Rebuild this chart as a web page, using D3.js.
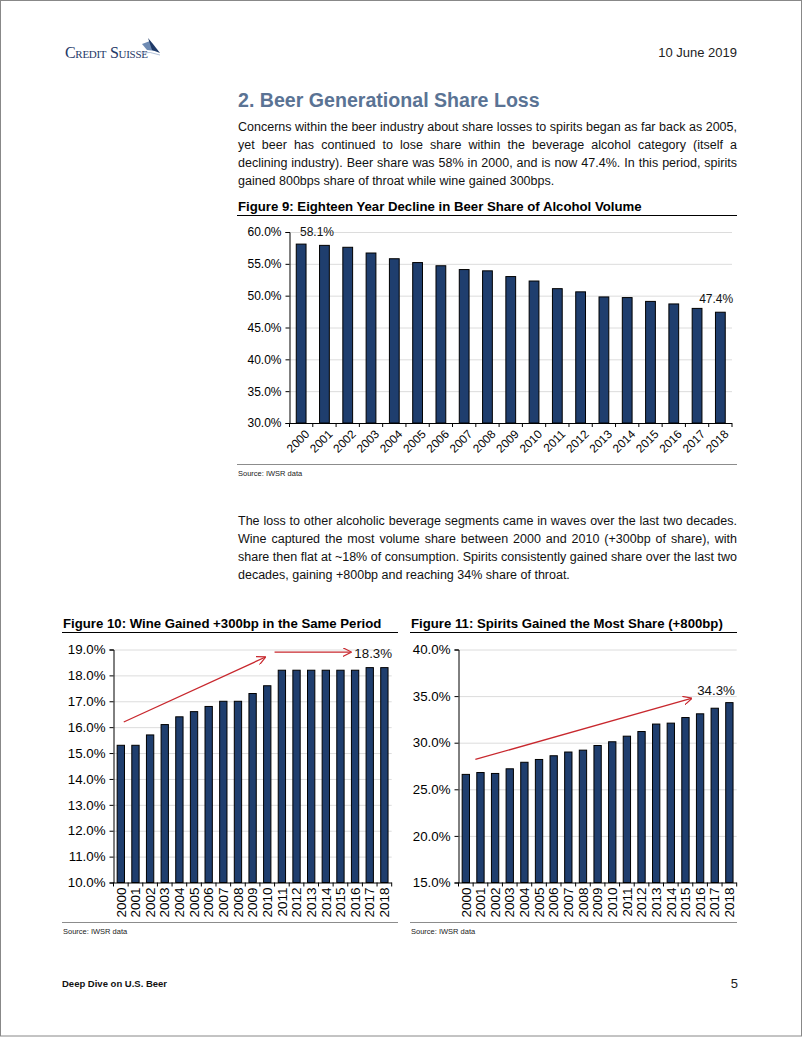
<!DOCTYPE html>
<html>
<head>
<meta charset="utf-8">
<script src="https://cdn.jsdelivr.net/npm/d3@7"></script>
<style>
  body { margin: 0; background: #fff; }
  #page { position: relative; width: 802px; height: 1037px; overflow: hidden; font-family: Arial, "Liberation Sans", sans-serif; }
  #page svg { position: absolute; left: 0; top: 0; }
  .para { position: absolute; left: 238px; width: 499px; font-size: 12.5px; line-height: 18px; text-align: justify; color: #111; }
</style>
</head>
<body>
<div id="page">
  <svg id="chart" width="802" height="1037"></svg>
  <div class="para" style="top:118px">Concerns within the beer industry about share losses to spirits began as far back as 2005, yet beer has continued to lose share within the beverage alcohol category (itself a declining industry). Beer share was 58% in 2000, and is now 47.4%. In this period, spirits gained 800bps share of throat while wine gained 300bps.</div>
  <div class="para" style="top:512px">The loss to other alcoholic beverage segments came in waves over the last two decades. Wine captured the most volume share between 2000 and 2010 (+300bp of share), with share then flat at ~18% of consumption. Spirits consistently gained share over the last two decades, gaining +800bp and reaching 34% share of throat.</div>
</div>
<script>
// years shared by all three figures
var years = ["2000","2001","2002","2003","2004","2005","2006","2007","2008","2009",
             "2010","2011","2012","2013","2014","2015","2016","2017","2018"];

// share of alcohol volume, %
var beerShare = [58.1, 57.9, 57.6, 56.7, 55.8, 55.2, 54.7, 54.1, 53.9, 53.0,
                 52.3, 51.1, 50.6, 49.8, 49.7, 49.1, 48.7, 48.0, 47.4];
var wineShare = [15.3, 15.3, 15.7, 16.1, 16.4, 16.6, 16.8, 17.0, 17.0, 17.3,
                 17.6, 18.2, 18.2, 18.2, 18.2, 18.2, 18.2, 18.3, 18.3];
var spiritsShare = [26.6, 26.8, 26.7, 27.2, 27.9, 28.2, 28.6, 29.0, 29.2, 29.7,
                    30.1, 30.7, 31.2, 32.0, 32.1, 32.7, 33.1, 33.7, 34.3];

var beerTicks = [30, 35, 40, 45, 50, 55, 60];
var wineTicks = [10, 11, 12, 13, 14, 15, 16, 17, 18, 19];
var spiritsTicks = [15, 20, 25, 30, 35, 40];

// annotation arrows, [year index, value] pairs
var wineArrows = [[[0.2, 16.2], [9.85, 18.7]], [[10.5, 18.9], [15.7, 18.9]]];
var spiritsArrows = [[[0.65, 28.2], [15.4, 34.75]]];

var svg = d3.select("#chart");
var barFill = "#1f3e6e";
var fmt = function(d){ return d3.format(".1f")(d) + "%"; };

// arrow head marker
svg.append("defs").append("marker")
  .attr("id", "head")
  .attr("viewBox", "0 0 10 10")
  .attr("refX", 9).attr("refY", 5)
  .attr("markerWidth", 9).attr("markerHeight", 9)
  .attr("markerUnits", "userSpaceOnUse")
  .attr("orient", "auto")
  .append("path")
  .attr("d", "M0,0 L10,5 L0,10")
  .attr("fill", "none")
  .attr("stroke", "#c8282e")
  .attr("stroke-width", 1.3);

// page frame
svg.append("rect").attr("x", 0.5).attr("y", 0.5).attr("width", 801).attr("height", 1035.5)
  .attr("fill", "none").attr("stroke", "#888").attr("stroke-width", 1);

// header
var logo = svg.append("g");
logo.append("text").attr("x", 65).attr("y", 58)
  .style("font-family", "'Liberation Serif', serif").style("font-size", "16px")
  .style("font-variant", "small-caps").style("letter-spacing", "-0.3px")
  .attr("fill", "#1f3a68").text("Credit Suisse");
logo.append("path").attr("d", "M142,44 L150,41 L156,51 L147,50 Z").attr("fill", "#6f8bb3");
logo.append("path").attr("d", "M148,38 L153,44 L160,53 L152,50 Z").attr("fill", "#1f3a68");
logo.append("path").attr("d", "M141,53 Q150,51 160,55").attr("fill", "none").attr("stroke", "#9fb3cf").attr("stroke-width", 0.8);

svg.append("text").attr("x", 737).attr("y", 57).attr("text-anchor", "end")
  .style("font-size", "13px").attr("fill", "#222").text("10 June 2019");

svg.append("text").attr("x", 238).attr("y", 107)
  .style("font-size", "19.6px").style("font-weight", "bold")
  .attr("fill", "#5a7394").text("2. Beer Generational Share Loss");

// footer
svg.append("text").attr("x", 62).attr("y", 987)
  .style("font-family", "'Liberation Sans Narrow', 'Arial Narrow', Arial, sans-serif")
  .style("font-size", "9.5px").style("font-weight", "bold").attr("fill", "#111")
  .text("Deep Dive on U.S. Beer");
svg.append("text").attr("x", 738).attr("y", 988).attr("text-anchor", "end")
  .style("font-size", "13px").attr("fill", "#222").text("5");

function figure(o) {
  var g = svg.append("g");

  g.append("text").attr("x", o.frame[0] + 1).attr("y", o.titleY)
    .style("font-size", "13.2px").style("font-weight", "bold").attr("fill", "#000")
    .text(o.title);
  g.append("line").attr("x1", o.frame[0]).attr("x2", o.frame[1])
    .attr("y1", o.titleY + 4.5).attr("y2", o.titleY + 4.5)
    .attr("stroke", "#000").attr("stroke-width", 1);

  g.append("line").attr("x1", o.frame[0]).attr("x2", o.frame[1])
    .attr("y1", o.sourceY).attr("y2", o.sourceY)
    .attr("stroke", "#8c8c8c").attr("stroke-width", 1);
  g.append("text").attr("x", o.frame[0] + 1).attr("y", o.sourceY + 11)
    .style("font-size", "7.5px").attr("fill", "#222").text("Source: IWSR data");

  var x = d3.scaleBand().domain(years).range([o.left, o.right]).paddingInner(o.pad).paddingOuter(o.pad / 2);
  var y = d3.scaleLinear().domain(d3.extent(o.ticks)).range([o.bottom, o.top]);

  // grid
  g.append("g").selectAll("line").data(o.ticks.slice(1)).join("line")
    .attr("x1", o.left).attr("x2", o.right)
    .attr("y1", function(d){ return y(d) + 0.5; }).attr("y2", function(d){ return y(d) + 0.5; })
    .attr("stroke", "#dcdcdc").attr("stroke-width", 1);

  // bars
  g.append("g").selectAll("rect").data(o.values).join("rect")
    .attr("x", function(d, i){ return x(years[i]); })
    .attr("width", x.bandwidth())
    .attr("y", function(d){ return y(d); })
    .attr("height", function(d){ return o.bottom - y(d); })
    .attr("fill", barFill).attr("stroke", "#000").attr("stroke-width", 1);

  // y axis
  var ya = g.append("g").attr("transform", "translate(" + o.left + ",0)")
    .call(d3.axisLeft(y).tickValues(o.ticks).tickFormat(fmt).tickSize(4).tickPadding(4));
  ya.select(".domain").attr("stroke", "#000");
  ya.selectAll(".tick line").attr("stroke", "#000");
  ya.selectAll("text").style("font-size", o.fontSize).style("font-family", "Arial, 'Liberation Sans', sans-serif").attr("fill", "#000");

  // x axis
  var xa = g.append("g").attr("transform", "translate(0," + o.bottom + ")")
    .call(d3.axisBottom(x).tickSize(0).tickPadding(0));
  xa.select(".domain").attr("stroke", "#000").attr("d", "M" + o.left + ",0.5H" + o.right);
  var step = x.step();
  xa.append("g").selectAll("line").data(d3.range(years.length + 1)).join("line")
    .attr("x1", function(i){ return o.left + i * step; }).attr("x2", function(i){ return o.left + i * step; })
    .attr("y1", 0).attr("y2", 4).attr("stroke", "#000");
  var xt = xa.selectAll(".tick text")
    .style("font-size", o.yearSize).style("font-family", "Arial, 'Liberation Sans', sans-serif")
    .attr("fill", "#000").attr("text-anchor", "end");
  if (o.rotate === 45) {
    xt.attr("dy", "0.35em").attr("transform", "translate(6,9) rotate(-45)").attr("y", 0).attr("x", 0);
  } else {
    xt.attr("dy", "0.35em").attr("transform", "translate(0,5) rotate(-90)").attr("y", 0).attr("x", 0);
  }

  // arrows
  (o.arrows || []).forEach(function(a){
    g.append("line")
      .attr("x1", x(years[0]) + x.bandwidth() / 2 + a[0][0] * step)
      .attr("y1", y(a[0][1]))
      .attr("x2", x(years[0]) + x.bandwidth() / 2 + a[1][0] * step)
      .attr("y2", y(a[1][1]))
      .attr("stroke", "#c8282e").attr("stroke-width", 1.3)
      .attr("marker-end", "url(#head)");
  });

  // value labels
  (o.labels || []).forEach(function(l){
    g.append("text")
      .attr("x", x(years[0]) + x.bandwidth() / 2 + l.at * step)
      .attr("y", y(l.y))
      .attr("dy", "0.35em")
      .attr("text-anchor", l.anchor)
      .style("font-size", o.fontSize).attr("fill", "#111")
      .text(fmt(o.values[l.i]));
  });
}

figure({
  title: "Figure 9: Eighteen Year Decline in Beer Share of Alcohol Volume",
  frame: [237, 737], titleY: 211, sourceY: 464.5,
  left: 289.5, right: 732, top: 232, bottom: 423,
  pad: 0.58, ticks: beerTicks, values: beerShare, fontSize: "12px", yearSize: "11.8px", rotate: 45,
  labels: [{i: 0, at: -0.05, y: 60, anchor: "start"}, {i: 18, at: 18.55, y: 49.5, anchor: "end"}]
});

figure({
  title: "Figure 10: Wine Gained +300bp in the Same Period",
  frame: [62, 398], titleY: 628, sourceY: 922.5,
  left: 113.5, right: 391.7, top: 649.5, bottom: 882.5,
  pad: 0.5, ticks: wineTicks, values: wineShare, fontSize: "13.3px", yearSize: "13.5px", rotate: 90,
  arrows: wineArrows,
  labels: [{i: 18, at: 15.95, y: 18.85, anchor: "start"}]
});

figure({
  title: "Figure 11: Spirits Gained the Most Share (+800bp)",
  frame: [410, 737], titleY: 628, sourceY: 922.5,
  left: 458.5, right: 736.7, top: 649.5, bottom: 882.5,
  pad: 0.5, ticks: spiritsTicks, values: spiritsShare, fontSize: "13.3px", yearSize: "13.5px", rotate: 90,
  arrows: spiritsArrows,
  labels: [{i: 18, at: 15.8, y: 35.6, anchor: "start"}]
});
</script>
</body>
</html>
